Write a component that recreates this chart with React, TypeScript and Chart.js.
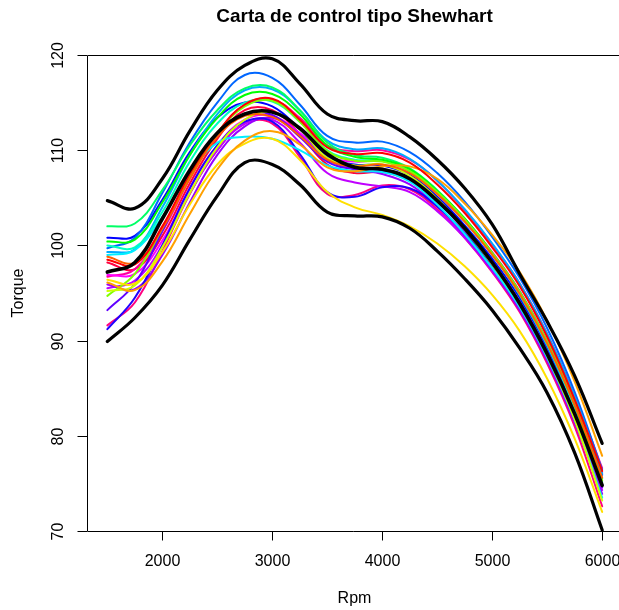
import React, { useEffect, useRef } from "react";
import { Chart, registerables } from "chart.js";

Chart.register(...registerables);

const rpm = [1500, 1750, 2000, 2250, 2500, 2750, 3000, 3250, 3500, 3750, 4000, 4250, 4500, 4750, 5000, 5250, 5500, 5750, 6000];

const xTicks = [2000, 3000, 4000, 5000, 6000];
const yTicks = [70, 80, 90, 100, 110, 120];

const upperLimit = [104.7, 103.9, 107.0, 112.0, 116.3, 118.9, 119.6, 117.0, 113.8, 113.1, 113.0, 111.4, 109.0, 106.0, 102.2, 97.0, 92.0, 86.3, 79.2];
const meanCurve = [97.2, 98.2, 102.8, 107.9, 111.8, 113.8, 114.0, 112.3, 109.6, 108.2, 108.0, 107.0, 104.7, 101.8, 98.2, 93.9, 88.6, 82.3, 74.8];
const lowerLimit = [89.9, 92.4, 95.8, 100.6, 105.2, 108.7, 108.5, 106.4, 103.5, 103.1, 103.0, 101.8, 99.4, 96.5, 93.2, 89.2, 84.5, 78.2, 70.1];

const azure = [99.7, 100.8, 105.5, 110.8, 115.0, 117.9, 117.6, 114.8, 111.5, 110.8, 110.9, 109.8, 107.6, 104.6, 100.9, 96.6, 91.3, 84.6, 76.4];
const springGreen = [102.0, 102.3, 105.8, 110.5, 114.2, 116.5, 116.6, 114.2, 110.8, 109.5, 109.2, 108.1, 105.8, 102.8, 99.2, 95.1, 89.9, 83.4, 75.5];
const blue = [100.8, 101.0, 104.8, 109.8, 113.4, 115.0, 114.6, 112.2, 109.3, 108.5, 108.4, 107.4, 105.1, 102.1, 98.6, 94.5, 89.3, 82.8, 75.9];
const blueDip = [91.2, 94.5, 100.0, 106.0, 110.5, 113.0, 113.0, 109.6, 105.6, 105.1, 106.1, 106.0, 104.1, 101.3, 97.9, 93.9, 88.8, 82.4, 74.9];
const rose = [91.6, 94.0, 99.4, 105.4, 110.0, 112.8, 112.8, 109.3, 105.4, 105.3, 106.3, 105.9, 103.8, 100.8, 97.2, 93.0, 87.6, 81.0, 72.6];
const yellow = [96.4, 96.0, 99.3, 104.3, 108.5, 110.7, 111.2, 109.0, 105.6, 104.0, 103.2, 102.0, 100.2, 97.8, 94.8, 91.0, 86.0, 79.7, 72.0];
const orange = [96.1, 95.3, 98.3, 103.3, 108.0, 111.0, 112.0, 110.6, 108.2, 107.8, 108.3, 108.3, 107.0, 104.4, 101.1, 97.2, 92.1, 85.7, 77.9];
const orangeRed = [98.8, 98.2, 101.8, 107.0, 111.4, 113.6, 113.5, 111.5, 109.0, 108.3, 108.5, 107.6, 105.4, 102.5, 99.0, 94.9, 89.7, 83.2, 75.6];
const red = [98.5, 98.0, 102.0, 107.5, 111.8, 114.8, 115.4, 113.2, 110.3, 109.6, 109.7, 108.7, 106.4, 103.4, 99.8, 95.7, 90.4, 83.8, 76.3];
const redPink = [98.2, 97.5, 101.0, 106.5, 111.2, 114.2, 114.2, 111.7, 108.5, 107.6, 107.7, 106.8, 104.6, 101.6, 98.0, 93.9, 88.7, 82.3, 74.6];
const magenta = [96.9, 97.0, 100.5, 106.0, 110.5, 113.2, 113.6, 111.8, 109.4, 108.8, 108.9, 107.9, 105.7, 102.8, 99.3, 95.2, 90.0, 83.5, 76.1];
const deepPink = [96.7, 97.5, 101.5, 107.0, 111.7, 114.8, 115.3, 113.4, 110.5, 109.9, 110.0, 109.0, 106.8, 103.7, 100.1, 96.0, 90.7, 84.2, 76.6];
const purple = [95.5, 96.3, 100.0, 105.5, 110.0, 112.8, 113.2, 110.8, 107.6, 106.6, 106.2, 105.6, 103.6, 100.8, 97.3, 93.3, 88.1, 81.6, 74.3];
const chartreuse = [94.7, 97.0, 101.8, 107.2, 111.8, 114.6, 115.2, 113.0, 109.9, 108.9, 108.8, 107.8, 105.6, 102.7, 99.2, 95.1, 89.9, 83.4, 75.3];
const violet = [93.2, 96.0, 101.5, 107.3, 111.5, 113.8, 113.7, 111.4, 108.8, 108.0, 107.9, 106.9, 104.6, 101.7, 98.2, 94.1, 88.9, 82.5, 74.6];
const green = [100.4, 100.6, 104.5, 109.5, 113.4, 115.8, 115.9, 113.8, 110.5, 109.3, 109.0, 108.0, 105.7, 102.8, 99.2, 95.1, 89.8, 83.3, 74.8];
const aquamarine = [100.0, 99.8, 103.5, 108.8, 112.8, 115.0, 115.1, 113.0, 110.0, 109.0, 108.9, 107.8, 105.5, 102.5, 99.0, 94.8, 89.5, 82.9, 75.1];
const lightBlue = [99.3, 99.6, 104.0, 109.5, 113.8, 116.3, 116.4, 114.2, 111.0, 110.1, 110.2, 109.1, 106.8, 103.8, 100.2, 96.0, 90.7, 84.1, 76.0];
const cyan = [99.0, 99.5, 103.0, 107.5, 110.8, 111.4, 111.2, 110.0, 108.4, 107.8, 107.7, 106.7, 104.3, 101.2, 97.6, 93.5, 88.2, 81.7, 73.5];
const yellowGreen = [95.2, 95.8, 99.8, 105.5, 110.3, 113.2, 114.0, 112.2, 109.2, 108.4, 108.5, 107.3, 104.9, 101.7, 98.0, 93.8, 88.4, 81.7, 73.2];
const violet2 = [95.9, 95.4, 99.0, 104.5, 109.5, 112.5, 113.4, 111.6, 109.0, 108.0, 107.5, 106.4, 104.1, 101.0, 97.4, 93.2, 87.9, 81.4, 73.9];

const coloredSeries: [number[], string][] = [
  [red, "#FF0000"],
  [orangeRed, "#FF6000"],
  [orange, "#FFA000"],
  [yellow, "#FFE000"],
  [yellowGreen, "#CCFF00"],
  [chartreuse, "#80FF00"],
  [green, "#00FF00"],
  [springGreen, "#00FF66"],
  [aquamarine, "#00FFC0"],
  [cyan, "#00EEFF"],
  [lightBlue, "#00AAFF"],
  [azure, "#0066FF"],
  [blue, "#0000FF"],
  [blueDip, "#2200FF"],
  [violet, "#6000FF"],
  [violet2, "#9900FF"],
  [purple, "#C000FF"],
  [magenta, "#FF00FF"],
  [deepPink, "#FF00A0"],
  [rose, "#FF0080"],
  [redPink, "#FF0040"],
];

const FONT = "'Liberation Sans', Arial, Helvetica, sans-serif";

const toPoints = (vals: number[]) => rpm.map((x, i) => ({ x, y: vals[i] }));

const axesPlugin = {
  id: "rAxes",
  afterDraw(chart: any) {
    const ctx = chart.ctx;
    const area = chart.chartArea;
    const xs = chart.scales.x;
    const ys = chart.scales.y;
    ctx.save();
    ctx.strokeStyle = "#000";
    ctx.lineWidth = 1;
    ctx.beginPath();
    ctx.moveTo(area.right + 5, area.top + 0.5);
    ctx.lineTo(area.left + 0.5, area.top + 0.5);
    ctx.lineTo(area.left + 0.5, area.bottom + 0.5);
    ctx.lineTo(area.right + 5, area.bottom + 0.5);
    ctx.stroke();

    ctx.fillStyle = "#000";
    ctx.font = `16px ${FONT}`;
    ctx.textAlign = "center";
    ctx.textBaseline = "middle";
    xTicks.forEach((v) => {
      const px = Math.round(xs.getPixelForValue(v)) + 0.5;
      ctx.beginPath();
      ctx.moveTo(px, area.bottom);
      ctx.lineTo(px, area.bottom + 9.5);
      ctx.stroke();
      ctx.fillText(String(v), px, area.bottom + 31);
    });
    yTicks.forEach((v) => {
      const py = Math.round(ys.getPixelForValue(v)) + 0.5;
      ctx.beginPath();
      ctx.moveTo(area.left, py);
      ctx.lineTo(area.left - 9.5, py);
      ctx.stroke();
      ctx.save();
      ctx.translate(area.left - 28, py);
      ctx.rotate(-Math.PI / 2);
      ctx.fillText(String(v), 0, 0);
      ctx.restore();
    });

    const cx = (area.left + 622) / 2;
    ctx.fillText("Rpm", cx, 599);
    ctx.save();
    ctx.translate(19, (area.top + area.bottom) / 2);
    ctx.rotate(-Math.PI / 2);
    ctx.fillText("Torque", 0, 0);
    ctx.restore();

    ctx.font = `bold 19px ${FONT}`;
    ctx.fillText("Carta de control tipo Shewhart", cx, 17);
    ctx.restore();
  },
};

export default function App() {
  const ref = useRef<HTMLCanvasElement | null>(null);
  useEffect(() => {
    document.body.style.margin = "0";
    const canvas = ref.current;
    if (!canvas) return;
    const blackSets = [
      { data: toPoints(upperLimit), borderColor: "#000", borderWidth: 3.2 },
      { data: toPoints(meanCurve), borderColor: "#000", borderWidth: 3.6 },
      { data: toPoints(lowerLimit), borderColor: "#000", borderWidth: 3.2 },
    ].map((d) => ({ ...d, order: 0 }));
    const colorSets = coloredSeries.map(([vals, col]) => ({
      data: toPoints(vals),
      borderColor: col,
      borderWidth: 2,
      order: 1,
    }));
    const chart = new Chart(canvas, {
      type: "line",
      data: { datasets: [...blackSets, ...colorSets] as any },
      options: {
        responsive: false,
        animation: false,
        layout: { padding: { top: 55, left: 0, right: 0, bottom: 0 } },
        elements: {
          point: { radius: 0, hoverRadius: 0 },
          line: { tension: 0.4, fill: false, borderCapStyle: "round", borderJoinStyle: "round" },
        },
        plugins: { legend: { display: false }, tooltip: { enabled: false }, title: { display: false } },
        events: [],
        scales: {
          x: {
            type: "linear",
            min: 1315,
            max: 6153,
            afterBuildTicks: (s: any) => {
              s.ticks = xTicks.map((v) => ({ value: v }));
            },
            afterFit: (s: any) => {
              s.height = 79;
            },
            ticks: { display: false },
            grid: { display: false },
            border: { display: false },
          },
          y: {
            type: "linear",
            min: 70,
            max: 120,
            afterBuildTicks: (s: any) => {
              s.ticks = yTicks.map((v) => ({ value: v }));
            },
            afterFit: (s: any) => {
              s.width = 87;
            },
            ticks: { display: false },
            grid: { display: false },
            border: { display: false },
          },
        },
      },
      plugins: [axesPlugin],
    });
    return () => chart.destroy();
  }, []);
  return (
    <div style={{ position: "absolute", left: 0, top: 0, width: 619, height: 610, background: "#fff" }}>
      <canvas ref={ref} width={619} height={610} style={{ display: "block" }} />
    </div>
  );
}
